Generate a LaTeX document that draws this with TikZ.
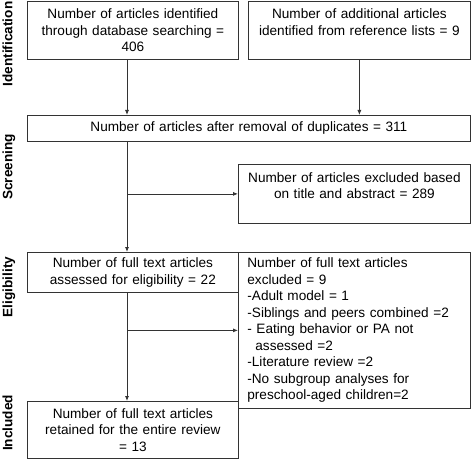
\documentclass[tikz,border=0pt]{standalone}
\usepackage{fontspec}
\setmainfont{Liberation Sans}
\usetikzlibrary{arrows.meta,calc}
\begin{document}
\begin{tikzpicture}[x=1pt,y=-1pt,
  box/.style={draw=black!80, line width=0.8pt, rectangle, inner sep=0pt, anchor=north west, align=center, font=\fontsize{13.6}{16.5}\selectfont},
  arr/.style={draw=black!80, line width=0.8pt, -{Latex[length=5pt,width=4pt]}},
  phase/.style={rotate=90, anchor=base, font=\bfseries\fontsize{13.6}{16}\selectfont}]
\useasboundingbox (0,0) rectangle (472,460);
\node[box, minimum width=211pt, minimum height=58pt, text width=205pt] (b1) at (27,1)
  {Number of articles identified\\through database searching =\\406};
\node[box, minimum width=222pt, minimum height=58pt, text width=216pt] (b2) at (248,1)
  {Number of additional articles\\identified from reference lists = 9\\\mbox{}};
\node[box, minimum width=443pt, minimum height=26pt, text width=437pt] (b3) at (27,115)
  {Number of articles after removal of duplicates = 311};
\node[box, minimum width=232pt, minimum height=59pt, text width=226pt] (b4) at (238,164)
  {Number of articles excluded based\\on title and abstract = 289\\\mbox{}};
\node[box, minimum width=211pt, minimum height=40pt, text width=205pt] (b5) at (27,252)
  {Number of full text articles\\assessed for eligibility = 22};
\node[box, minimum width=232pt, minimum height=156pt, text width=214pt, inner xsep=9pt, align=left] (b6) at (238,252)
  {Number of full text articles\\excluded = 9\\-Adult model = 1\\-Siblings and peers combined =2\\- Eating behavior or PA not\\\hspace*{8pt}assessed =2\\-Literature review =2\\-No subgroup analyses for\\preschool-aged children=2};
\node[box, minimum width=211pt, minimum height=57pt, text width=205pt] (b7) at (27,401)
  {Number of full text articles\\retained for the entire review\\= 13};
\coordinate (colL) at (127,0);
\draw[arr] (b1.south -| colL) -- (b3.north -| colL);
\draw[arr] (b2.south) -- (b3.north -| b2.south);
\draw[arr] (b3.south -| colL) -- (b5.north -| colL);
\draw[arr] (b4.west -| colL) -- (b4.west);
\draw[arr] (b5.south -| colL) -- (b7.north -| colL);
\draw[arr] (b6.west -| colL) -- (b6.west);
\node[phase] (p1) at (12.5,44) {Identification};
\node[phase] (p2) at (12.5,167) {Screening};
\node[phase] (p3) at (12.5,287) {Eligibility};
\node[phase] (p4) at (12.5,423) {Included};
\end{tikzpicture}
\end{document}
